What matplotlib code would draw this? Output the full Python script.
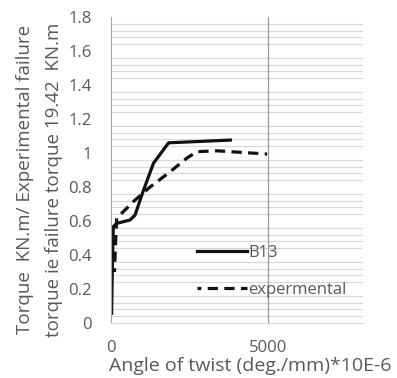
import matplotlib
matplotlib.use("Agg")
import matplotlib.pyplot as plt
import numpy as np

plt.rcParams['font.family'] = ['Open Sans', 'DejaVu Sans']

# B13 (solid) curve
b13_angle = [20, 40, 73, 180, 605, 764, 1030, 1350, 1830, 3790]
b13_torque = [0.057, 0.30, 0.567, 0.586, 0.606, 0.635, 0.78, 0.94, 1.06, 1.076]

# experimental (dashed) curve
exp_angle = [110, 140, 180, 710, 1240, 1880, 2410, 2730, 3360, 4960]
exp_torque = [0.30, 0.45, 0.616, 0.714, 0.80, 0.89, 0.97, 1.008, 1.013, 0.994]

x_ticks = [0, 5000]
y_ticks = [0, 0.2, 0.4, 0.6, 0.8, 1, 1.2, 1.4, 1.6, 1.8]
y_tick_labels = ['0', '0.2', '0.4', '0.6', '0.8', '1', '1.2', '1.4', '1.6', '1.8']

grey_txt = '#595959'

fig = plt.figure(figsize=(3.97, 3.78), dpi=100)
ax = fig.add_axes([0.2796, 0.1455, 0.6344, 0.8095])

# minor horizontal gridlines every 0.04, major ones left out
for v in np.arange(0.04, 1.81, 0.04):
    if abs(v / 0.2 - round(v / 0.2)) > 1e-6:
        ax.axhline(v, color='#d9d9d9', lw=0.9, zorder=0)
ax.axvline(5000, color='#9a9a9a', lw=0.9, zorder=0)

ax.plot(b13_angle, b13_torque, color='#111111', lw=2.3, label='B13')
ax.plot(exp_angle, exp_torque, color='#111111', lw=2.3, ls=(2.0, (3.2, 2.0)),
        label='expermental')

ax.set_xlim(0, 8000)
ax.set_ylim(0, 1.8)
ax.set_xticks(x_ticks)
ax.set_xticklabels([str(t) for t in x_ticks])
ax.set_yticks(y_ticks)
ax.set_yticklabels(y_tick_labels)
ax.tick_params(length=0, labelsize=12, colors=grey_txt)
ax.tick_params(axis='x', pad=12)
ax.tick_params(axis='y', pad=14)

for side in ['top', 'right']:
    ax.spines[side].set_visible(False)
ax.spines['left'].set_color('#a6a6a6')
ax.spines['bottom'].set_color('#d9d9d9')

ax.set_xlabel('Angle of twist (deg./mm)*10E-6', fontsize=14, color=grey_txt)
ax.xaxis.set_label_coords(0.552, -0.11)

fig.text(0.063, 0.524, 'Torque  KN.m/ Experimental failure', rotation=90,
         ha='center', va='center', fontsize=13.5, color=grey_txt)
fig.text(0.136, 0.524, 'torque ie failure torque 19.42  KN.m', rotation=90,
         ha='center', va='center', fontsize=13.5, color=grey_txt)

leg = ax.legend(loc='upper left', bbox_to_anchor=(0.34, 0.255), frameon=False,
                fontsize=12, handlelength=3.0, handletextpad=0.1,
                labelspacing=1.25, borderpad=0, borderaxespad=0)
for t in leg.get_texts():
    t.set_color(grey_txt)

fig.savefig('out.png', dpi=100)
